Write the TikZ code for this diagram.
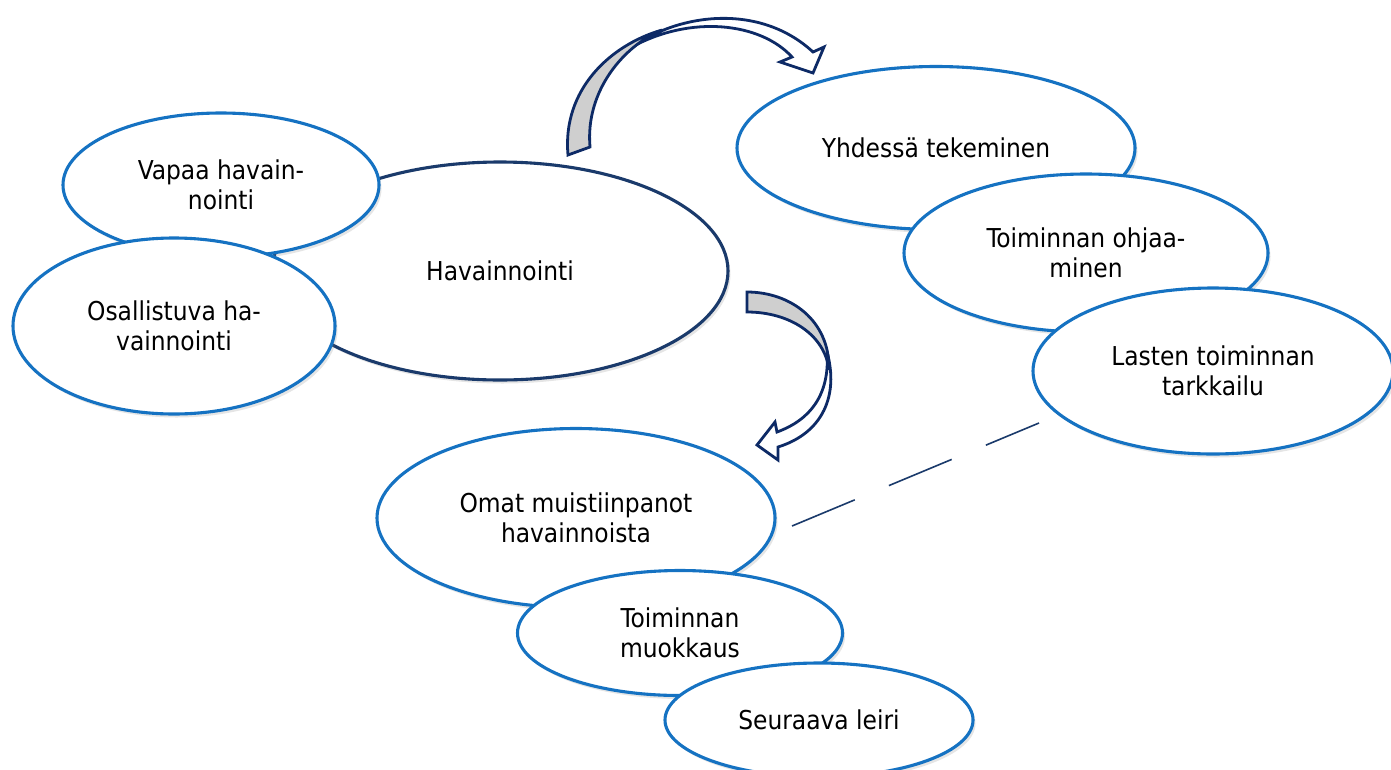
\documentclass[tikz,border=0pt]{standalone}
\usepackage{fontspec}
\setmainfont{DejaVu Sans Condensed}
\usetikzlibrary{shapes.geometric,shadows}
\definecolor{lblue}{HTML}{1572C2}
\definecolor{navy}{HTML}{1A3A6B}
\definecolor{arrnavy}{HTML}{0D2A66}
\definecolor{bandgray}{HTML}{CFCFCF}
\begin{document}
\begin{tikzpicture}[x=1pt,y=-1pt,
  oval/.style={ellipse, draw=lblue, line width=3.1pt, fill=white, inner sep=0pt,
    align=center, font=\fontsize{26}{30}\selectfont,
    drop shadow={opacity=0.2, shadow xshift=2.5pt, shadow yshift=-3.5pt}},
  mainoval/.style={oval, draw=navy},
  arrline/.style={draw=arrnavy, line width=2.8pt, line join=miter},
  linkline/.style={draw=navy, line width=1.6pt, dash pattern=on 68pt off 37pt}]
\useasboundingbox (0,0) rectangle (1391,769);
\fill[white] (0,0) rectangle (1391,769);

\node[mainoval, minimum width=456pt, minimum height=218pt] (hav) at (500,271) {Havainnointi};
\node[oval, minimum width=316pt, minimum height=144pt] (vap) at (221,185) {Vapaa havain-\\nointi};
\node[oval, minimum width=322pt, minimum height=176pt] (osa) at (174,326) {Osallistuva ha-\\vainnointi};

\node[oval, minimum width=398pt, minimum height=163pt] (yht) at (936,148) {Yhdessä tekeminen};
\node[oval, minimum width=364pt, minimum height=158pt] (ohj) at (1086,253) {Toiminnan ohjaa-\\minen};
\node[oval, minimum width=360pt, minimum height=166pt] (las) at (1213,371) {Lasten toiminnan\\tarkkailu};

\node[oval, minimum width=398pt, minimum height=179pt] (oma) at (576,518) {Omat muistiinpanot\\havainnoista};
\node[oval, minimum width=325pt, minimum height=125pt] (muo) at (680,633) {Toiminnan\\muokkaus};
\node[oval, minimum width=308pt, minimum height=114pt] (seu) at (819,720) {Seuraava leiri};

% top curved arrow
\path[arrline, fill=white] (632,47) .. controls (680,13) and (760,3) .. (813,52)
  -- (824,47) -- (813,73) -- (780,62) -- (792,57)
  .. controls (760,22) and (690,15) .. (632,47) -- cycle;
\path[arrline, fill=bandgray] (568,155) .. controls (562,90) and (610,45) .. (662,30)
  .. controls (625,45) and (585,90) .. (590,147) -- cycle;

% bottom curved arrow
\path[arrline, fill=white] (827,352) .. controls (839,395) and (823,433) .. (778,447)
  -- (778,460) -- (757,445) -- (775,422) -- (777,432)
  .. controls (810,420) and (830,395) .. (827,352) -- cycle;
\path[arrline, fill=bandgray] (747,292) .. controls (790,292) and (830,320) .. (829,370)
  .. controls (825,335) and (790,312) .. (747,312) -- cycle;

% dashed link
\coordinate (d1) at (792,526);
\coordinate (d2) at (1039,423);
\draw[linkline] (d1) -- (d2);
\end{tikzpicture}
\end{document}
